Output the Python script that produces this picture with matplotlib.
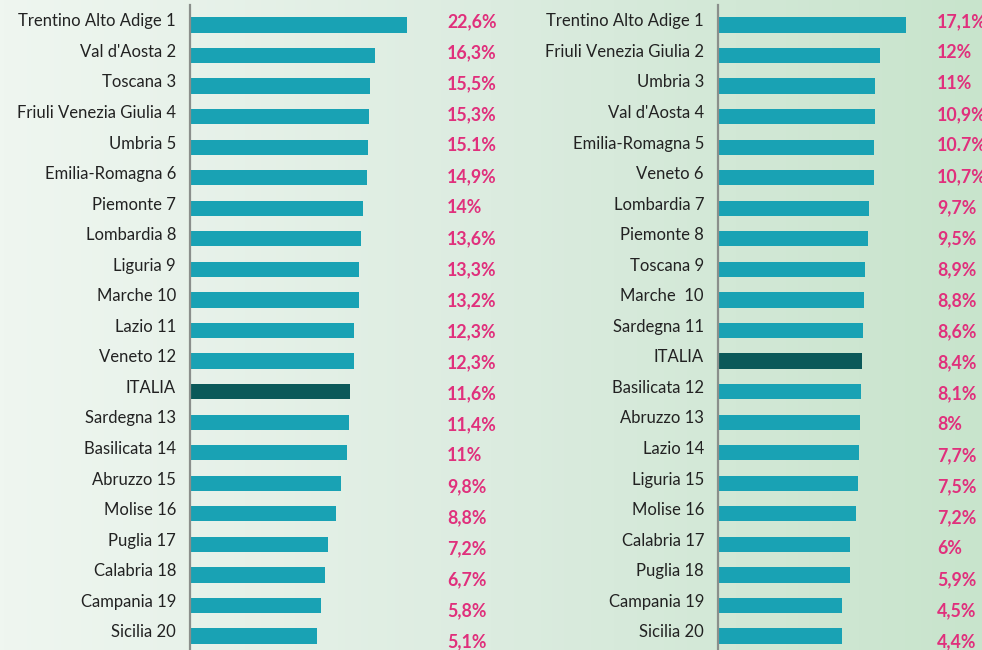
import numpy as np
import matplotlib
matplotlib.use("Agg")
import matplotlib.pyplot as plt
from matplotlib.colors import LinearSegmentedColormap

plt.rcParams['font.family'] = ['Lato', 'DejaVu Sans']

# left ranking
left_names = ["Trentino Alto Adige 1", "Val d'Aosta 2", "Toscana 3", "Friuli Venezia Giulia 4",
              "Umbria 5", "Emilia-Romagna 6", "Piemonte 7", "Lombardia 8", "Liguria 9",
              "Marche 10", "Lazio 11", "Veneto 12", "ITALIA", "Sardegna 13", "Basilicata 14",
              "Abruzzo 15", "Molise 16", "Puglia 17", "Calabria 18", "Campania 19", "Sicilia 20"]
left_values = [22.6, 16.3, 15.5, 15.3, 15.1, 14.9, 14.0, 13.6, 13.3, 13.2, 12.3, 12.3,
               11.6, 11.4, 11.0, 9.8, 8.8, 7.2, 6.7, 5.8, 5.1]
left_labels = ["22,6%", "16,3%", "15,5%", "15,3%", "15.1%", "14,9%", "14%", "13,6%", "13,3%",
               "13,2%", "12,3%", "12,3%", "11,6%", "11,4%", "11%", "9,8%", "8,8%", "7,2%",
               "6,7%", "5,8%", "5,1%"]

# right ranking
right_names = ["Trentino Alto Adige 1", "Friuli Venezia Giulia 2", "Umbria 3", "Val d'Aosta 4",
               "Emilia-Romagna 5", "Veneto 6", "Lombardia 7", "Piemonte 8", "Toscana 9",
               "Marche  10", "Sardegna 11", "ITALIA", "Basilicata 12", "Abruzzo 13", "Lazio 14",
               "Liguria 15", "Molise 16", "Calabria 17", "Puglia 18", "Campania 19", "Sicilia 20"]
right_values = [17.1, 12.0, 11.0, 10.9, 10.7, 10.7, 9.7, 9.5, 8.9, 8.8, 8.6, 8.4, 8.1, 8.0,
                7.7, 7.5, 7.2, 6.0, 5.9, 4.5, 4.4]
right_labels = ["17,1%", "12%", "11%", "10,9%", "10.7%", "10,7%", "9,7%", "9,5%", "8,9%",
                "8,8%", "8,6%", "8,4%", "8,1%", "8%", "7,7%", "7,5%", "7,2%", "6%", "5,9%",
                "4,5%", "4,4%"]

BAR = "#19a2b4"
ITA = "#0b5959"
PINK = "#e0307c"
W, H = 982, 650

fig = plt.figure(figsize=(W / 100, H / 100), dpi=100)

# background gradient
bg = fig.add_axes([0, 0, 1, 1], zorder=-10)
cmap = LinearSegmentedColormap.from_list("bg", ["#eff6f0", "#dcece0", "#c8e4cc"])
bg.imshow(np.linspace(0, 1, 256)[None, :], aspect="auto", cmap=cmap, extent=[0, 1, 0, 1])
bg.axis("off")


def panel(x0, x1, xmin, scale, names, values, labels, name_x, val_x):
    ax = fig.add_axes([x0 / W, 0, (x1 - x0) / W, 1])
    ax.patch.set_alpha(0)
    xmax = xmin + (x1 - x0) / scale
    y = np.arange(len(names))
    colors = [ITA if n == "ITALIA" else BAR for n in names]
    ax.barh(y, [v - xmin for v in values], left=xmin, height=0.5, color=colors)
    ax.set_xlim(xmin, xmax)
    ax.set_ylim(20 + 14 / 30.55, -25 / 30.55)
    for s in ["top", "right", "bottom"]:
        ax.spines[s].set_visible(False)
    ax.spines["left"].set_color("#8a8f8b")
    ax.spines["left"].set_linewidth(1.6)
    ax.spines["left"].set_bounds(-0.66, 20.5)
    ax.set_xticks([])
    ax.set_yticks([])
    for i, (n, lab) in enumerate(zip(names, labels)):
        ax.text(name_x, i - 0.12, n, transform=ax.get_yaxis_transform(), ha="right",
                va="center", fontsize=12, color="#222222")
        ax.text(val_x, i - 0.12 + i * 0.016, lab, transform=ax.get_yaxis_transform(),
                ha="left", va="center", fontsize=12.8, fontweight="bold", color=PINK)
    return ax


panel(190, 520, -19.6, 5.14, left_names, left_values, left_labels,
      (176 - 190) / 330, (447 - 190) / 330)
panel(718, 982, -20.2, 5.04, right_names, right_values, right_labels,
      (704 - 718) / 264, (937 - 718) / 264)

fig.savefig("out.png", dpi=100)
